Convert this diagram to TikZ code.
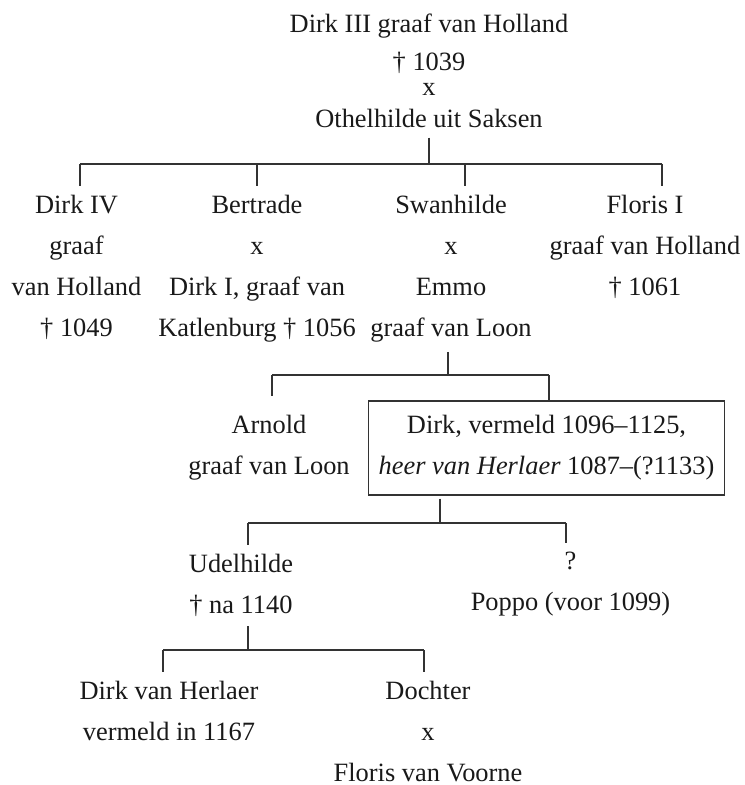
\documentclass[tikz,border=0pt]{standalone}
\usepackage{fontspec}
\setmainfont{Liberation Serif}
\begin{document}
\begin{tikzpicture}[x=0.5pt, y=-0.5pt,
        font=\fontsize{13.2}{20.5}\selectfont,
        person/.style={align=center, anchor=north, inner xsep=2pt, inner ysep=4.5pt, text=black!90},
        lineage/.style={draw=black!80, line width=0.6pt}]
        \useasboundingbox (0,0) rectangle (744,785);

        % generation 1
        \node (dirk3) [person] at (429,5) {Dirk III graaf van Holland\\[-1.5pt] † 1039\\[-8pt] x\\[-4.5pt] Othelhilde uit Saksen};

        % generation 2
        \node (dirk4) [person] at (76.5,186) {Dirk IV\\graaf\\van Holland\\† 1049};
        \node (bertrade) [person] at (257,186) {Bertrade\\x\\Dirk I, graaf van\\Katlenburg † 1056};
        \node (swan) [person] at (451,186) {Swanhilde\\x\\Emmo\\graaf van Loon};
        \node (floris) [person] at (645,186) {Floris I\\graaf van Holland\\† 1061};

        % generation 3
        \node (arnold) [person, inner ysep=9.5pt] at (269,396) {Arnold\\graaf van Loon};
        \node (herlaer) [lineage, align=center, inner xsep=5pt, minimum height=47pt, text=black!90] at (546.5,448)
                {Dirk, vermeld 1096--1125,\\\textit{heer van Herlaer} 1087--(?1133)};

        % generation 4
        \node (udel) [person] at (241,545) {Udelhilde\\† na 1140};
        \node (poppo) [person] at (570.5,543) {?\\Poppo (voor 1099)};

        % generation 5
        \node (dvh) [person] at (169,672) {Dirk van Herlaer\\vermeld in 1167};
        \node (dochter) [person] at (428,672) {Dochter\\x\\Floris van Voorne};

        \coordinate (bar1l) at (80,164);
        \coordinate (bar1r) at (662,164);
        \coordinate (bar2l) at (272,375);
        \coordinate (bar2r) at (549,375);
        \coordinate (bar3l) at (248,523);
        \coordinate (bar3m) at (440,523);
        \coordinate (bar3r) at (566,523);
        \coordinate (bar4l) at (163,650);
        \coordinate (bar4m) at (248,650);
        \coordinate (bar4r) at (424,650);

        \draw [lineage] (dirk3.south) edge (dirk3.south |- bar1l)
                  (bar1l) edge (bar1r)
                  (bar1l) edge (bar1l |- dirk4.north)
                  (bertrade.north |- bar1l) edge (bertrade.north)
                  ([xshift=7pt]swan.north |- bar1l) edge ([xshift=7pt]swan.north)
                  (bar1r) edge (bar1r |- floris.north);

        \draw [lineage] ([xshift=-1.5pt]swan.south) edge ([xshift=-1.5pt]swan.south |- bar2l)
                  (bar2l) edge (bar2r)
                  (bar2l) edge (bar2l |- arnold.north)
                  (bar2r) edge (bar2r |- herlaer.north);

        \draw [lineage] ([yshift=-1.5pt]bar3m |- herlaer.south) edge (bar3m)
                  (bar3l) edge (bar3r)
                  (bar3l) edge (bar3l |- udel.north)
                  (bar3r) edge (bar3r |- poppo.north);

        \draw [lineage] (bar4m |- udel.south) edge (bar4m)
                  (bar4l) edge (bar4r)
                  (bar4l) edge (bar4l |- dvh.north)
                  (bar4r) edge (bar4r |- dochter.north);
    \end{tikzpicture}
\end{document}
